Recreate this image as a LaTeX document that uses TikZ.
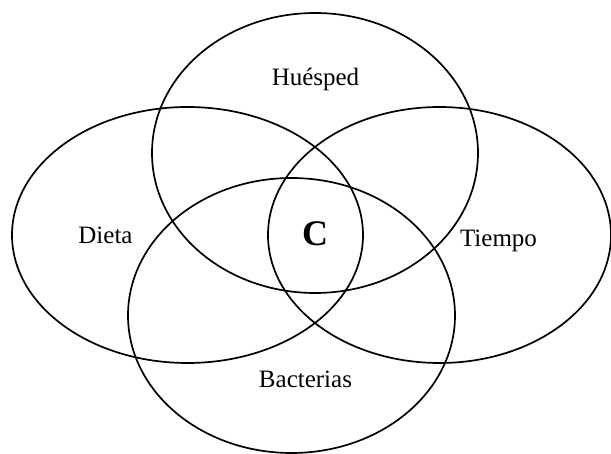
\documentclass[tikz,border=0pt]{standalone}
\usepackage{fontspec}
\setmainfont{Liberation Serif}
\usepackage{tikz}
\usetikzlibrary{positioning}

\tikzset{
    setline/.style={line width=1.7pt},
    setlabel/.style={font=\fontsize{25}{30}\selectfont}
}

\begin{document}
\begin{tikzpicture}[x=1pt, y=-1pt]
    \useasboundingbox (0,0) rectangle (611,454);

    % Sets
    \draw[setline] (315, 153) ellipse [x radius=163, y radius=140];        % Huesped
    \draw[setline] (187.5, 235) ellipse [x radius=175.5, y radius=128];    % Dieta
    \draw[setline] (439.5, 235) ellipse [x radius=171.5, y radius=128];    % Tiempo
    \draw[setline] (291.5, 315.5) ellipse [x radius=163.5, y radius=137.5]; % Bacterias

    % Labels
    \node[setlabel] (huesped) at (315.5, 79) {Huésped};
    \node[setlabel] (dieta) at (105.5, 235) {Dieta};
    \node[setlabel] (tiempo) at (498.5, 241) {Tiempo};
    \node[setlabel] (bacterias) at (305.5, 379.5) {Bacterias};
    \node[font=\fontsize{36}{40}\selectfont\bfseries] (core) at (315, 234) {C};

\end{tikzpicture}
\end{document}
